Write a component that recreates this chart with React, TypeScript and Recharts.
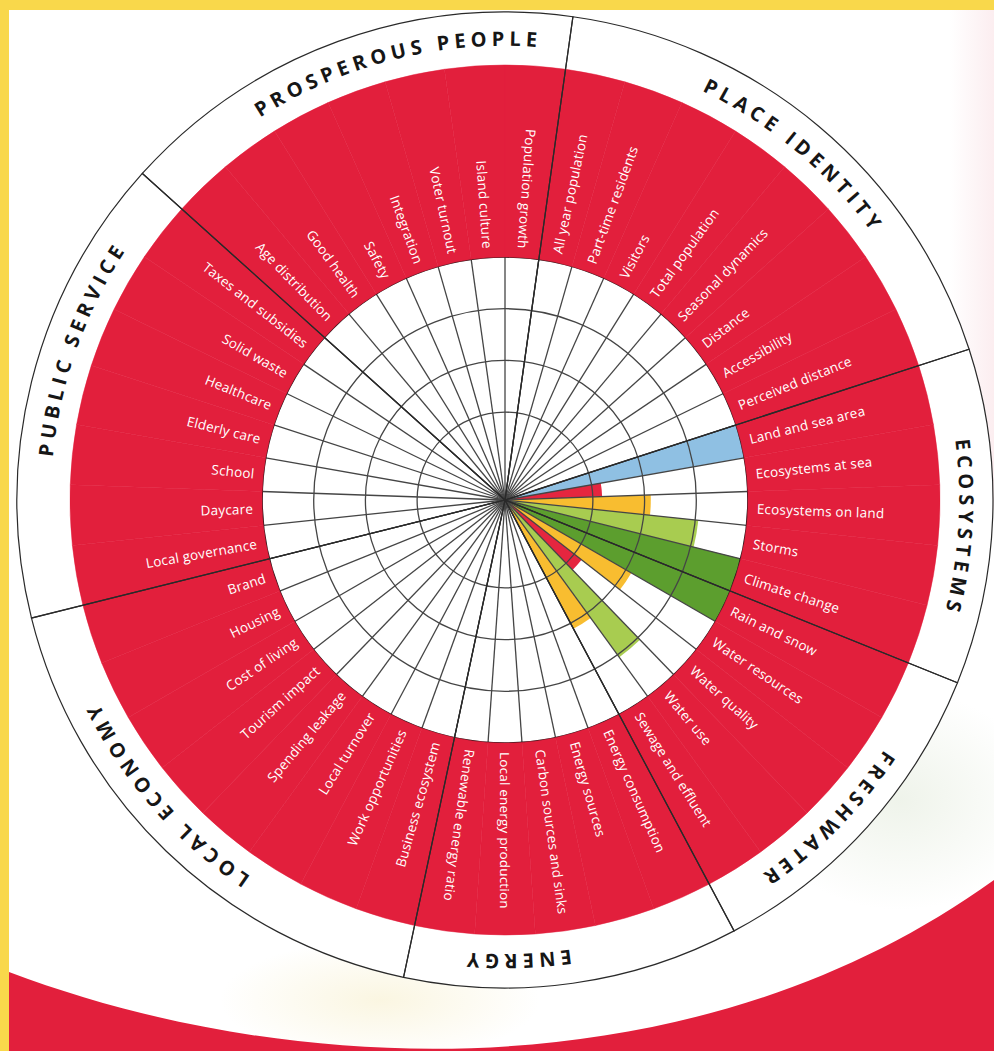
import React from 'react';
import {
  RadialBarChart,
  RadialBar,
  PolarAngleAxis,
  PolarRadiusAxis,
  PolarGrid,
  PieChart,
  Pie,
  Sector,
} from 'recharts';

// ---------------- data ----------------
const groups = [
  'PLACE IDENTITY',
  'ECOSYSTEMS',
  'FRESHWATER',
  'ENERGY',
  'LOCAL ECONOMY',
  'PUBLIC SERVICE',
  'PROSPEROUS PEOPLE',
];
const groupSizes = [8, 5, 5, 5, 8, 7, 7];

const indicators = [
  'All year population', 'Part-time residents', 'Visitors', 'Total population',
  'Seasonal dynamics', 'Distance', 'Accessibility', 'Perceived distance',
  'Land and sea area', 'Ecosystems at sea', 'Ecosystems on land', 'Storms', 'Climate change',
  'Rain and snow', 'Water resources', 'Water quality', 'Water use', 'Sewage and effluent',
  'Energy consumption', 'Energy sources', 'Carbon sources and sinks',
  'Local energy production', 'Renewable energy ratio',
  'Business ecosystem', 'Work opportunities', 'Local turnover', 'Spending leakage',
  'Tourism impact', 'Cost of living', 'Housing', 'Brand',
  'Local governance', 'Daycare', 'School', 'Elderly care', 'Healthcare',
  'Solid waste', 'Taxes and subsidies',
  'Age distribution', 'Good health', 'Safety', 'Integration', 'Voter turnout',
  'Island culture', 'Population growth',
];

// score level per indicator (0 = not scored)
const levels = [
  0, 0, 0, 0, 0, 0, 0, 0,
  4, 1, 2, 3, 4,
  4, 2, 1, 3, 2,
  0, 0, 0, 0, 0,
  0, 0, 0, 0, 0, 0, 0, 0,
  0, 0, 0, 0, 0, 0, 0,
  0, 0, 0, 0, 0, 0, 0,
];
const infoIndicators = ['Land and sea area'];
const gridLevels = [1, 2, 3];
const radiusDomain: [number, number] = [-0.7, 4];

// ---------------- layout / style ----------------
const W = 994;
const H = 1051;
const CX = 505;
const CY = 500;
const R_GRID = 243;
const R_RED = 435;
const R_OUT = 488;
const START = 82; // first boundary at 8° clockwise from north
const END = START - 360;
const STEP = 360 / indicators.length;
// the angle band axis of RadialBar draws each bar one band counter-clockwise
// of its band start, so the bar chart's range is rotated by one step
const BAR_START = START - STEP;
const BAR_END = END - STEP;

const RED = '#E21F3C';
const YELLOW_BG = '#F9D84B';
const LEVEL_COLORS: Record<number, string> = {
  1: '#E5263F',
  2: '#F8BD30',
  3: '#A8CC50',
  4: '#5C9E2E',
};
const INFO_COLOR = '#8FC0E3';
const GROUP_LABEL_NUDGE = [0, 1.5, 2.7, 6.5, 5, 5.6, 6];
const FONT = '"Open Sans", "DejaVu Sans", sans-serif';

const barData = indicators.map((name, i) => ({ name, level: levels[i] }));
const ringData = indicators.map((name) => ({ name, weight: 1 }));
const groupData = groups.map((name, i) => ({ name, size: groupSizes[i] }));

// indicators from LOCAL ECONOMY onwards read inward
const inwardFrom = groupSizes.slice(0, 4).reduce((a, b) => a + b, 0);

const boundaryAngles = indicators.map((_, i) => START - i * STEP);
const radiusOf = (v: number) =>
  (R_GRID * (v - radiusDomain[0])) / (radiusDomain[1] - radiusDomain[0]);

const BarShape = (props: any) => {
  const { cx, cy, outerRadius, startAngle, endAngle } = props;
  const p = props.payload ?? props;
  if (!p || !p.level) return <g />;
  const fill = infoIndicators.includes(p.name) ? INFO_COLOR : LEVEL_COLORS[p.level];
  return (
    <Sector
      cx={cx}
      cy={cy}
      innerRadius={0}
      outerRadius={outerRadius}
      startAngle={startAngle}
      endAngle={endAngle}
      fill={fill}
      stroke="none"
    />
  );
};

const renderIndicatorLabel = (p: any) => {
  const { cx, cy, midAngle, index } = p;
  const name = indicators[index];
  const inward = index >= inwardFrom;
  const r = R_GRID + 9;
  const rad = (midAngle * Math.PI) / 180;
  const x = cx + r * Math.cos(rad);
  const y = cy - r * Math.sin(rad);
  const rot = inward ? 180 - midAngle : -midAngle;
  return (
    <text
      key={`il-${index}`}
      x={x}
      y={y}
      transform={`rotate(${rot} ${x} ${y})`}
      textAnchor={inward ? 'end' : 'start'}
      dominantBaseline="central"
      fill="#ffffff"
      fontSize={13.5}
      fontFamily={FONT}
      letterSpacing={0.2}
    >
      {name}
    </text>
  );
};

const renderGroupLabel = (p: any) => {
  const { cx, cy, midAngle, index } = p;
  const compass = (((90 - midAngle) % 360) + 360) % 360 + GROUP_LABEL_NUDGE[index];
  const r = 454;
  const s = Math.SQRT1_2 * r;
  // clockwise circle starting at compass 315°
  const d = `M ${cx - s} ${cy - s} A ${r} ${r} 0 1 1 ${cx + s} ${cy + s} A ${r} ${r} 0 1 1 ${cx - s} ${cy - s}`;
  const frac = ((((compass - 315) % 360) + 360) % 360) / 360;
  const id = `grp-path-${index}`;
  return (
    <g key={`gl-${index}`}>
      <defs>
        <path id={id} d={d} fill="none" />
      </defs>
      <text fontSize={20} fontWeight={700} fontFamily={FONT} letterSpacing={4.9} fill="#161616">
        <textPath href={`#${id}`} startOffset={`${frac * 100}%`} textAnchor="middle">
          {groups[index]}
        </textPath>
      </text>
    </g>
  );
};

const layer: React.CSSProperties = { position: 'absolute', left: 0, top: 0 };
const noMargin = { top: 0, right: 0, bottom: 0, left: 0 };

export default function App() {
  return (
    <div style={{ position: 'absolute', left: 0, top: 0, width: W, height: H, overflow: 'hidden', background: '#fff' }}>
      {/* page decoration */}
      <svg width={W} height={H} style={layer}>
        <defs>
          <linearGradient id="pinkTint" x1="0" y1="0" x2="1" y2="0">
            <stop offset="0" stopColor="#FBE9EC" stopOpacity={0} />
            <stop offset="1" stopColor="#FBE9EC" stopOpacity={0.8} />
          </linearGradient>
          <radialGradient id="greenTint" cx="0.5" cy="0.5" r="0.5">
            <stop offset="0" stopColor="#EDF2E8" stopOpacity={0.9} />
            <stop offset="1" stopColor="#EDF2E8" stopOpacity={0} />
          </radialGradient>
          <radialGradient id="yellowTint" cx="0.5" cy="0.5" r="0.5">
            <stop offset="0" stopColor="#FAF5DE" stopOpacity={0.9} />
            <stop offset="1" stopColor="#FAF5DE" stopOpacity={0} />
          </radialGradient>
        </defs>
        <rect x={0} y={0} width={W} height={H} fill={YELLOW_BG} />
        <rect x={9} y={10} width={W - 9} height={H - 10} fill="#ffffff" />
        <rect x={950} y={10} width={44} height={500} fill="url(#pinkTint)" />
        <ellipse cx={900} cy={800} rx={140} ry={110} fill="url(#greenTint)" />
        <ellipse cx={380} cy={1000} rx={160} ry={60} fill="url(#yellowTint)" />
        <path d={`M 9 972 C 300 1082 700 1092 ${W} 880 L ${W} ${H} L 9 ${H} Z`} fill={RED} />
      </svg>

      {/* bars */}
      <div style={layer}>
        <RadialBarChart
          width={W}
          height={H}
          cx={CX}
          cy={CY}
          innerRadius={0}
          outerRadius={R_GRID}
          startAngle={BAR_START}
          endAngle={BAR_END}
          layout="centric"
          data={barData}
          margin={noMargin}
          barCategoryGap="0%"
          barGap={0}
        >
          <PolarAngleAxis type="category" dataKey="name" tick={false} axisLine={false} tickLine={false} />
          <PolarRadiusAxis type="number" domain={radiusDomain} tick={false} axisLine={false} tickLine={false} />
          <RadialBar dataKey="level" isAnimationActive={false} shape={BarShape} />
        </RadialBarChart>
      </div>

      {/* grid, rings, labels */}
      <div style={{ ...layer, pointerEvents: 'none' }}>
        <PieChart width={W} height={H} cx={CX} cy={CY} innerRadius={0} outerRadius={R_GRID} margin={noMargin}>
          <PolarGrid
            cx={CX}
            cy={CY}
            innerRadius={0}
            outerRadius={R_GRID}
            gridType="circle"
            polarAngles={boundaryAngles}
            polarRadius={gridLevels.map(radiusOf)}
            stroke="#454545"
            strokeWidth={1.3}
          />
          <PolarGrid
            cx={CX}
            cy={CY}
            innerRadius={0}
            outerRadius={R_GRID}
            gridType="circle"
            radialLines={false}
            polarAngles={[]}
            polarRadius={[R_GRID]}
            stroke="#161616"
            strokeWidth={1.7}
          />
          <Pie
            data={groupData}
            dataKey="size"
            nameKey="name"
            cx={CX}
            cy={CY}
            innerRadius={R_RED}
            outerRadius={R_OUT}
            startAngle={START}
            endAngle={END}
            fill="#ffffff"
            stroke="none"
            isAnimationActive={false}
            label={renderGroupLabel}
            labelLine={false}
          />
          <Pie
            data={ringData}
            dataKey="weight"
            nameKey="name"
            cx={CX}
            cy={CY}
            innerRadius={R_GRID}
            outerRadius={R_RED}
            startAngle={START}
            endAngle={END}
            fill={RED}
            stroke={RED}
            strokeWidth={0.5}
            isAnimationActive={false}
            label={renderIndicatorLabel}
            labelLine={false}
          />
          <Pie
            data={groupData}
            dataKey="size"
            nameKey="name"
            cx={CX}
            cy={CY}
            innerRadius={0}
            outerRadius={R_OUT}
            startAngle={START}
            endAngle={END}
            fill="none"
            stroke="#2a2a2a"
            strokeWidth={1.2}
            isAnimationActive={false}
          />
        </PieChart>
      </div>
    </div>
  );
}
